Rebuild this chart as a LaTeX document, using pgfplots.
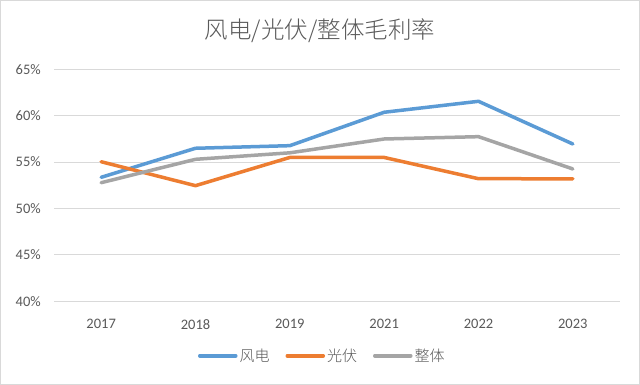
\documentclass[border=0pt]{standalone}
\usepackage{pgfplots}
\pgfplotsset{compat=1.18}
\usepackage{fontspec}
\setmainfont{Carlito}
\newfontfamily\cjk{Noto Sans CJK SC}
\newfontfamily\cjklight{Noto Sans CJK SC Light}
\definecolor{cBlue}{HTML}{5B9BD5}
\definecolor{cOrange}{HTML}{ED7D31}
\definecolor{cGray}{HTML}{A5A5A5}
\definecolor{cText}{HTML}{595959}
\definecolor{cGrid}{HTML}{D9D9D9}
\begin{document}
\begin{tikzpicture}
\useasboundingbox (0,0) rectangle (640pt,385pt);
\fill[white] (0,0) rectangle (640pt,385pt);
\draw[cGrid, line width=1pt] (0.5pt,0.5pt) rectangle (639.5pt,384.5pt);
\node[text=cText, font=\cjklight\fontsize{23.5}{27}\selectfont] at (320pt,354pt) {风电/光伏/整体毛利率};
\begin{axis}[
  at={(54pt,83.7pt)}, anchor=south west,
  scale only axis, width=566pt, height=232pt,
  xmin=-0.5, xmax=5.5, ymin=40, ymax=65,
  xtick={0,1,2,3,4,5},
  xticklabels={2017,2018,2019,2021,2022,2023},
  ytick={40,45,50,55,60,65},
  yticklabel={\pgfmathprintnumber{\tick}\%},
  /pgf/number format/assume math mode=true,
  major tick length=0pt,
  axis line style={draw=none},
  ymajorgrids, grid style={cGrid, line width=1pt},
  tick label style={text=cText, font=\fontsize{14.5}{17}\selectfont},
  yticklabel style={anchor=east, inner sep=0pt, xshift=-13pt},
  xticklabel style={anchor=center, inner sep=0pt, yshift=-23pt},
  legend columns=3,
  legend style={at={(0.474,-0.235)}, anchor=center, draw=none, fill=none,
    font=\cjklight\fontsize{15}{17}\selectfont, text=cText,
    /tikz/every even column/.append style={column sep=14pt}},
  legend image code/.code={\draw[#1] (0pt,0pt) -- (36pt,0pt);},
  every axis plot/.append style={line width=3.5pt, line cap=round, line join=round},
]
\addplot[cBlue] coordinates {(0,53.36) (1,56.49) (2,56.77) (3,60.37) (4,61.55) (5,56.95)};
\addplot[cOrange] coordinates {(0,55.04) (1,52.46) (2,55.5) (3,55.5) (4,53.21) (5,53.2)};
\addplot[cGray] coordinates {(0,52.78) (1,55.3) (2,56.0) (3,57.49) (4,57.74) (5,54.26)};
\legend{风电,光伏,整体}
\end{axis}
\end{tikzpicture}
\end{document}
